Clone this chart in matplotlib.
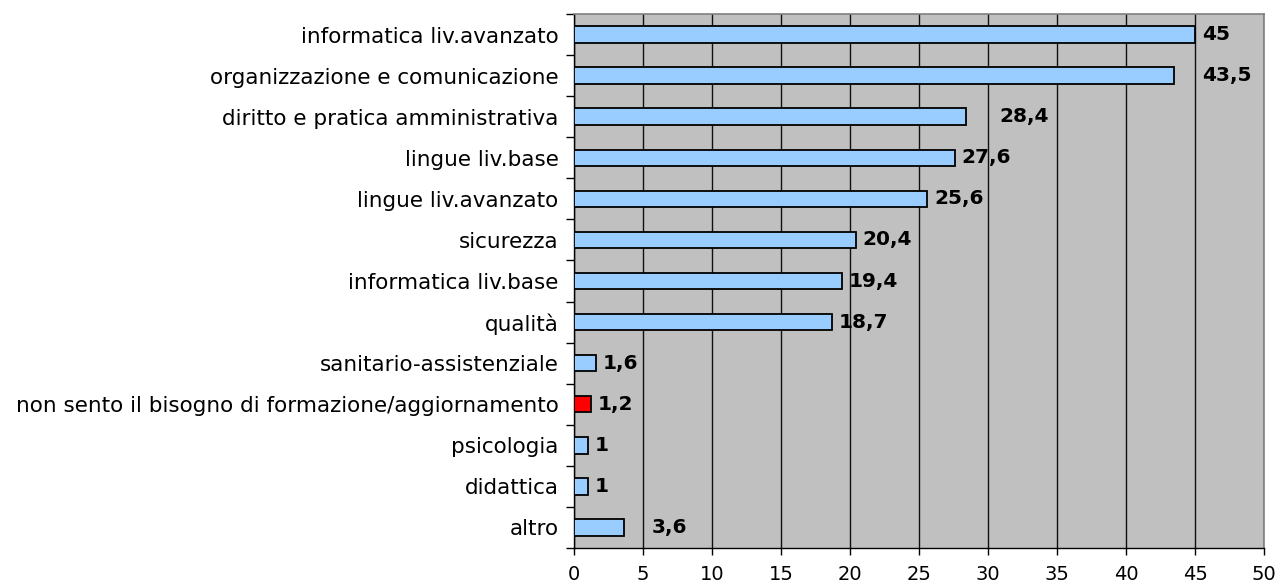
import matplotlib
matplotlib.use("Agg")
import matplotlib.pyplot as plt
import numpy as np

categories = [
    "informatica liv.avanzato",
    "organizzazione e comunicazione",
    "diritto e pratica amministrativa",
    "lingue liv.base",
    "lingue liv.avanzato",
    "sicurezza",
    "informatica liv.base",
    "qualità",
    "sanitario-assistenziale",
    "non sento il bisogno di formazione/aggiornamento",
    "psicologia",
    "didattica",
    "altro",
]
values = [45, 43.5, 28.4, 27.6, 25.6, 20.4, 19.4, 18.7, 1.6, 1.2, 1, 1, 3.6]
value_labels = ["45", "43,5", "28,4", "27,6", "25,6", "20,4", "19,4", "18,7",
                "1,6", "1,2", "1", "1", "3,6"]
x_ticks = [0, 5, 10, 15, 20, 25, 30, 35, 40, 45, 50]

highlight = "non sento il bisogno di formazione/aggiornamento"
# extra label spacing (data units) for a few bars
label_gap = {1: 1.5, 2: 1.9, 12: 1.5}

fig = plt.figure(figsize=(12.79, 5.86), dpi=100)
ax = fig.add_axes([0.4488, 0.0648, 0.5395, 0.9113])
ax.set_facecolor("#C0C0C0")

n = len(categories)
ypos = np.arange(n)
colors = ["#FF0000" if c == highlight else "#99CCFF" for c in categories]
ax.barh(ypos, values, height=0.4, color=colors, edgecolor="black",
        linewidth=1.3, zorder=3)

for i, (v, lab) in enumerate(zip(values, value_labels)):
    ax.text(v + 0.5 + label_gap.get(i, 0), i, lab, va="center", ha="left",
            fontsize=14.5, fontweight="bold", color="black", zorder=4)

ax.set_xlim(0, 50)
ax.set_ylim(n - 0.5, -0.5)
ax.set_xticks(x_ticks)
ax.set_xticklabels([str(t) for t in x_ticks], fontsize=14)
ax.xaxis.grid(True, color="#101010", linewidth=1.0, zorder=1)
ax.set_axisbelow(True)

ax.set_yticks(ypos)
ax.set_yticklabels(categories, fontsize=15.5)
ax.set_yticks(np.arange(n + 1) - 0.5, minor=True)
ax.tick_params(axis="y", which="major", length=0, pad=11)
ax.tick_params(axis="y", which="minor", length=6, width=1, color="black")
ax.tick_params(axis="x", which="major", length=5, width=1, pad=7, color="black")

for side in ("left", "bottom"):
    ax.spines[side].set_color("black")
    ax.spines[side].set_linewidth(1.0)
for side in ("top", "right"):
    ax.spines[side].set_color("#808080")
    ax.spines[side].set_linewidth(1.2)

fig.savefig("out.png", dpi=100)
